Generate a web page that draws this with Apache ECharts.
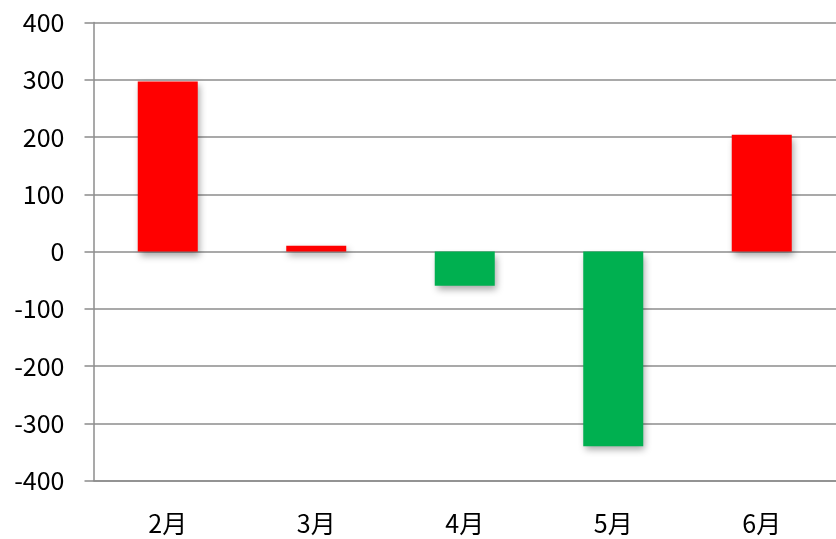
<!DOCTYPE html>
<html>
<head>
<meta charset="utf-8">
<script src="https://cdn.jsdelivr.net/npm/echarts@6/dist/echarts.min.js"></script>
<style>html,body{margin:0;padding:0;background:#fff;}#c{width:836px;height:539px;}</style>
</head>
<body>
<div id="c"></div>
<script>
var categories = ['2月', '3月', '4月', '5月', '6月'];
var values = [297, 10, -60, -340, 204];
var yTicks = { min: -400, max: 400, interval: 100 };
var upColor = '#FF0000';
var downColor = '#00B050';

var chart = echarts.init(document.getElementById('c'), null, { renderer: 'canvas' });
var font = '"Noto Sans CJK TC", "Noto Sans", sans-serif';
chart.setOption({
  animation: false,
  backgroundColor: '#fff',
  grid: { left: 93.5, top: 22.5, width: 745, height: 458 },
  xAxis: {
    type: 'category',
    data: categories,
    axisLine: { onZero: false, lineStyle: { color: '#8c8c8c', width: 1.5 } },
    axisTick: { show: false },
    axisLabel: { color: '#000', fontSize: 25, fontFamily: font, margin: 30 }
  },
  yAxis: {
    type: 'value',
    min: yTicks.min, max: yTicks.max, interval: yTicks.interval,
    axisLine: { show: true, lineStyle: { color: '#8c8c8c', width: 1.5 } },
    axisTick: { show: true, length: 9, lineStyle: { color: '#8c8c8c', width: 1.5 } },
    splitLine: { lineStyle: { color: '#8c8c8c', width: 1.5 } },
    axisLabel: { color: '#000', fontSize: 25, fontFamily: font, margin: 29 }
  },
  series: [{
    type: 'bar',
    barWidth: 60,
    data: values.map(function (v) {
      return { value: v, itemStyle: { color: v >= 0 ? upColor : downColor } };
    }),
    itemStyle: {
      shadowColor: 'rgba(0,0,0,0.35)',
      shadowBlur: 7,
      shadowOffsetX: 2,
      shadowOffsetY: 4
    }
  }]
});
</script>
</body>
</html>
